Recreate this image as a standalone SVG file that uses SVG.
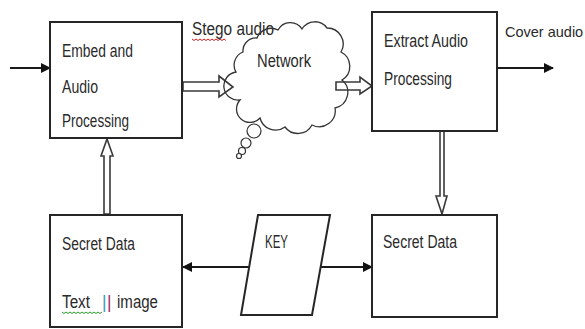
<svg xmlns="http://www.w3.org/2000/svg" width="585" height="329" viewBox="0 0 585 329">
<defs>
<style>
.box{fill:#fff;stroke:#262626;stroke-width:2}
.t{font-family:"Liberation Sans",Arial,sans-serif;font-size:17.5px;fill:#2a2a2a}
.ln{stroke:#1a1a1a;stroke-width:2;fill:none}
.hol{fill:#fff;stroke:#3a3a3a;stroke-width:1.6;stroke-linejoin:miter}
.wav{fill:none;stroke:#d02020;stroke-width:1}
.wavg{fill:none;stroke:#2a9a2a;stroke-width:1}
</style>
<marker id="ah" markerWidth="10" markerHeight="10" refX="9" refY="5" orient="auto" markerUnits="userSpaceOnUse">
<path d="M0,0 L10,5 L0,10 Z" fill="#111"/>
</marker>
</defs>
<rect width="585" height="329" fill="#fff"/>

<g id="connectors">
<line class="ln" x1="10" y1="68" x2="50" y2="68" marker-end="url(#ah)"/>
<line class="ln" x1="497" y1="68" x2="553" y2="68" marker-end="url(#ah)"/>
<line class="ln" x1="249" y1="267" x2="183" y2="267" marker-end="url(#ah)"/>
<line class="ln" x1="321" y1="267" x2="372" y2="267" marker-end="url(#ah)"/>
<path class="hol" d="M183,82 L219,82 L219,76 L233,87 L219,97 L219,91 L183,91 Z"/>
<path class="hol" d="M336,82 L360,82 L360,77 L372,86 L360,94 L360,90 L336,90 Z"/>
<path class="hol" d="M440,131 L444,131 L444,196 L447,196 L442,214 L436,196 L440,196 Z"/>
<path class="hol" d="M104,214 L104,156 L101,156 L107,139 L113,156 L110,156 L110,214 Z"/>
</g>

<g id="embed">
<rect class="box" x="50" y="22" width="132" height="116"/>
<text class="t" x="62" y="57" textLength="71" lengthAdjust="spacingAndGlyphs">Embed and</text>
<text class="t" x="62" y="93" textLength="36" lengthAdjust="spacingAndGlyphs">Audio</text>
<text class="t" x="62" y="127" textLength="67" lengthAdjust="spacingAndGlyphs">Processing</text>
</g>

<g id="stego-label">
<text class="t" x="192" y="35" textLength="82" lengthAdjust="spacingAndGlyphs">Stego audio</text>
<path class="wav" d="M192,39 l2,1.5 l2,-1.5 l2,1.5 l2,-1.5 l2,1.5 l2,-1.5 l2,1.5 l2,-1.5 l2,1.5 l2,-1.5 l2,1.5 l2,-1.5 l2,1.5 l2,-1.5 l2,1.5 l2,-1.5 l2,1.5"/>
</g>

<g id="network">
<path fill="none" stroke="#333" stroke-width="1.3" d="M240,100 A14,14 0 0 1 236,72 A14,14 0 0 1 243,52 A13,13 0 0 1 257,38 A15,15 0 0 1 278,30 A14,14 0 0 1 302,29 A15,15 0 0 1 327,28 A16,16 0 0 1 341,52 A16,16 0 0 1 342,80 A16,16 0 0 1 335,108 A16,16 0 0 1 312,125 A16,16 0 0 1 285,127 A16,16 0 0 1 260,118 A13,13 0 0 1 240,100 Z"/>
<circle cx="254" cy="131" r="7" fill="#fff" stroke="#333" stroke-width="1.2"/>
<circle cx="246" cy="143" r="5" fill="#fff" stroke="#333" stroke-width="1.2"/>
<circle cx="242" cy="151" r="3.5" fill="#fff" stroke="#333" stroke-width="1.2"/>
<circle cx="239" cy="156" r="2.5" fill="#fff" stroke="#333" stroke-width="1.2"/>
<text class="t" x="257" y="67" textLength="54" lengthAdjust="spacingAndGlyphs">Network</text>
</g>

<g id="extract">
<rect class="box" x="372" y="12" width="125" height="119"/>
<text class="t" x="384" y="47" textLength="84" lengthAdjust="spacingAndGlyphs">Extract Audio</text>
<text class="t" x="384" y="85" textLength="68" lengthAdjust="spacingAndGlyphs">Processing</text>
</g>

<g id="cover-label">
<text class="t" x="505" y="37" style="font-size:14.5px">Cover audio</text>
</g>

<g id="secret-left">
<rect class="box" x="50" y="215" width="132" height="112"/>
<text class="t" x="62" y="250" textLength="73" lengthAdjust="spacingAndGlyphs">Secret Data</text>
<text class="t" x="62" y="308" textLength="28" lengthAdjust="spacingAndGlyphs">Text</text>
<text class="t" x="102" y="308" style="fill:#3aa0b0">|</text>
<text class="t" x="107" y="308" style="fill:#a03070">|</text>
<text class="t" x="117" y="308" textLength="41" lengthAdjust="spacingAndGlyphs">image</text>
<path class="wavg" d="M62,312 l2,1.5 l2,-1.5 l2,1.5 l2,-1.5 l2,1.5 l2,-1.5 l2,1.5 l2,-1.5 l2,1.5 l2,-1.5 l2,1.5 l2,-1.5 l2,1.5 l2,-1.5 l2,1.5 l2,-1.5 l2,1.5 l2,-1.5 l2,1.5 l2,-1.5"/>
</g>

<g id="key">
<polygon points="258,215 330,215 312,315 241,315" fill="#fff" stroke="#262626" stroke-width="2"/>
<text class="t" x="265" y="248" textLength="23" lengthAdjust="spacingAndGlyphs">KEY</text>
</g>

<g id="secret-right">
<rect class="box" x="372" y="215" width="125" height="102"/>
<text class="t" x="383" y="248" textLength="74" lengthAdjust="spacingAndGlyphs">Secret Data</text>
</g>
</svg>
